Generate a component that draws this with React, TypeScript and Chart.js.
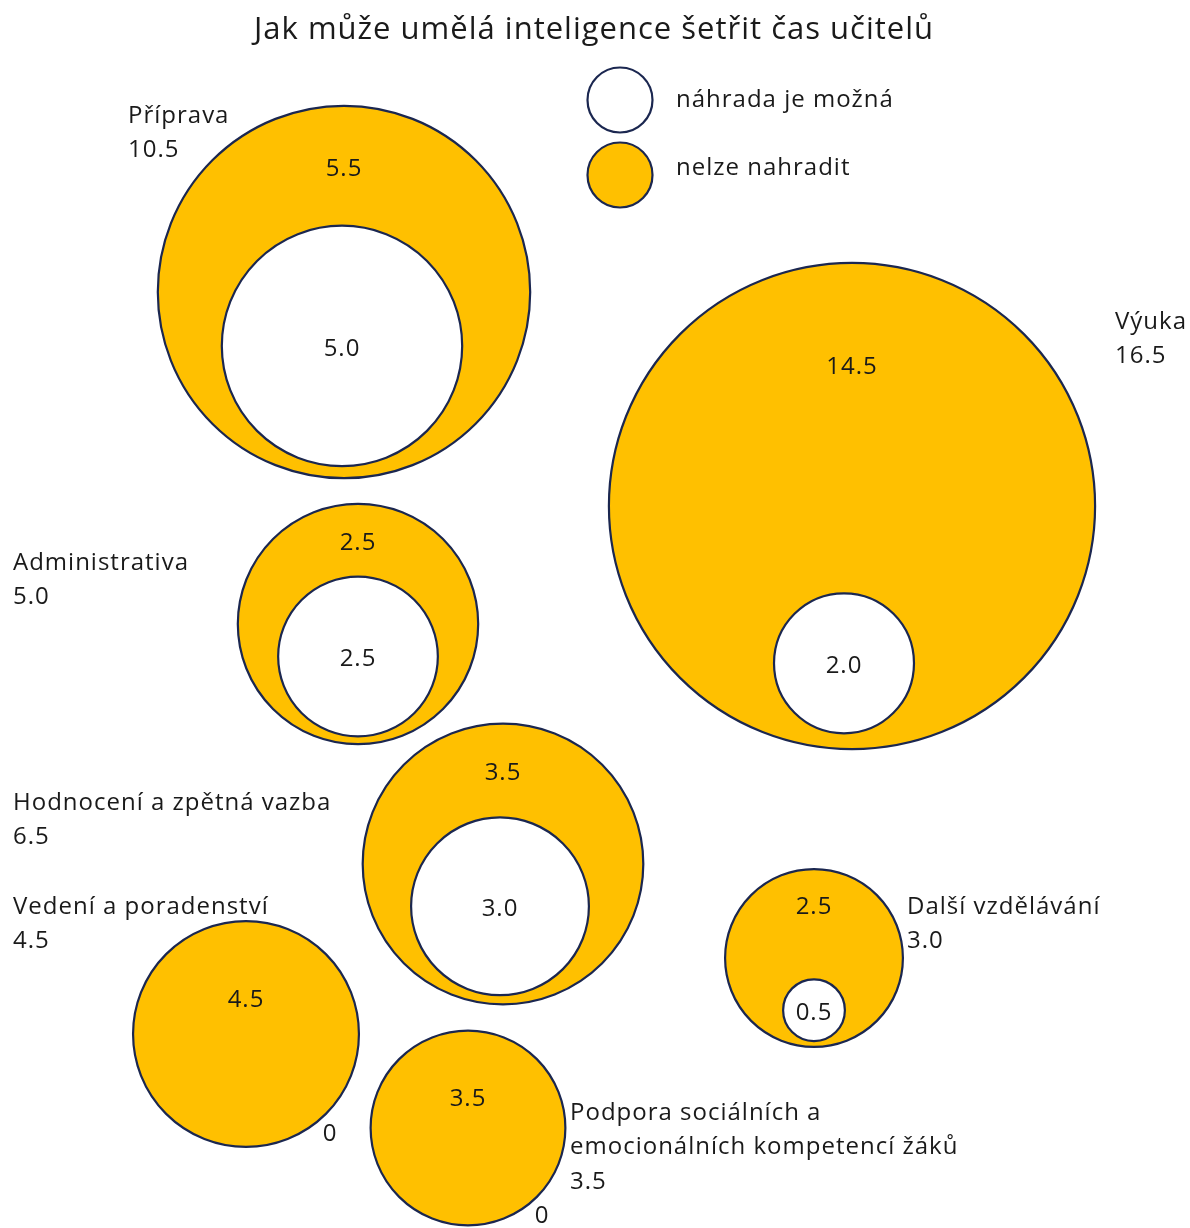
import React, { useEffect, useRef } from 'react';
import { Chart, registerables } from 'chart.js';

Chart.register(...registerables);

// ---- data ----
const TITLE = 'Jak může umělá inteligence šetřit čas učitelů';
const seriesNames = ['náhrada je možná', 'nelze nahradit'];
const categories = [
  'Příprava',
  'Výuka',
  'Administrativa',
  'Hodnocení a zpětná vazba',
  'Vedení a poradenství',
  'Podpora sociálních a emocionálních kompetencí žáků',
  'Další vzdělávání',
];
const totals = [10.5, 16.5, 5.0, 6.5, 4.5, 3.5, 3.0];
const replaceable = [5.0, 2.0, 2.5, 3.0, 0, 0, 0.5];
const notReplaceable = [5.5, 14.5, 2.5, 3.5, 4.5, 3.5, 2.5];

// ---- layout (packing positions, not data) ----
const W = 1190;
const H = 1228;
const centerX = [344, 852, 358, 503, 246, 468, 814];
const centerY = [292, 506, 624, 864, 1034, 1128, 958];
const innerShiftX = [-2, -8, 0, -3, 0, 0, 0];
const nameLines = [
  ['Příprava'],
  ['Výuka'],
  ['Administrativa'],
  ['Hodnocení a zpětná vazba'],
  ['Vedení a poradenství'],
  ['Podpora sociálních a', 'emocionálních kompetencí žáků'],
  ['Další vzdělávání'],
];
const nameX = [128, 1115, 13, 13, 13, 570, 907];
const nameY = [116, 322, 563, 803, 907, 1113, 907];

const YELLOW = '#FFC000';
const STROKE = '#1B2750';
const TEXT = '#1a1a1a';
const FONT = '"Open Sans", "Noto Sans", sans-serif';

// radius scale (data units): r = C * v^P
const R_C = 46.5;
const R_P = 0.59;
const rad = (v: number) => R_C * Math.pow(v, R_P);

const outerPoints = categories.map((c, i) => ({ x: centerX[i], y: centerY[i], v: totals[i], i }));
const innerPoints = categories
  .map((c, i) => {
    const R = rad(totals[i]);
    const r = rad(replaceable[i]);
    const gap = 0.065 * R;
    return { x: centerX[i] + innerShiftX[i], y: centerY[i] + R - r - gap, v: replaceable[i], i };
  })
  .filter((p) => p.v > 0);

export default function App() {
  const ref = useRef<HTMLCanvasElement | null>(null);

  useEffect(() => {
    if (!ref.current) return;

    // radius in pixels: data-unit radius times pixels per x unit
    const pxRadius = (chart: any, v: number) => {
      const s = chart.scales && chart.scales.x;
      if (s && s.width > 0) {
        return s.getPixelForValue(rad(v)) - s.getPixelForValue(0);
      }
      return (rad(v) * (chart.width || W)) / W;
    };

    const labelsPlugin = {
      id: 'bubbleLabels',
      afterDatasetsDraw(chart: any) {
        const ctx = chart.ctx;
        const xs = chart.scales.x;
        const ys = chart.scales.y;
        ctx.save();
        ctx.fillStyle = TEXT;
        ctx.textBaseline = 'middle';
        (ctx as any).letterSpacing = '1px';
        ctx.font = `24px ${FONT}`;

        categories.forEach((c, i) => {
          const cx = xs.getPixelForValue(centerX[i]);
          const cy = ys.getPixelForValue(centerY[i]);
          const R = pxRadius(chart, totals[i]);
          const top = cy - R;
          ctx.textAlign = 'center';
          if (replaceable[i] > 0) {
            const ip = innerPoints.find((p) => p.i === i)!;
            const icx = xs.getPixelForValue(ip.x);
            const icy = ys.getPixelForValue(ip.y);
            const r = pxRadius(chart, replaceable[i]);
            const innerTop = icy - r;
            const ly = Math.min((top + innerTop) / 2 + 3, top + 0.43 * R);
            ctx.fillText(notReplaceable[i].toFixed(1), cx, ly);
            ctx.fillText(replaceable[i].toFixed(1), icx, icy + 3);
          } else {
            ctx.fillText(notReplaceable[i].toFixed(1), cx, cy - 0.3 * R);
            const d = R + 18;
            const a = (50 * Math.PI) / 180;
            ctx.fillText('0', cx + d * Math.cos(a), cy + d * Math.sin(a));
          }
          // category name + total
          ctx.textAlign = 'left';
          const lines = [...nameLines[i], totals[i].toFixed(1)];
          lines.forEach((t, k) => {
            ctx.fillText(t, nameX[i], nameY[i] + k * 34.5);
          });
        });

        // title
        ctx.textAlign = 'center';
        ctx.font = `31px ${FONT}`;
        (ctx as any).letterSpacing = '1px';
        ctx.fillText(TITLE, 594, 30);

        // legend
        (ctx as any).letterSpacing = '1px';
        ctx.font = `24px ${FONT}`;
        const legend = [
          { name: seriesNames[0], fill: '#ffffff', y: 100, ty: 100 },
          { name: seriesNames[1], fill: YELLOW, y: 175, ty: 168 },
        ];
        legend.forEach((l) => {
          ctx.beginPath();
          ctx.arc(620, l.y, 32.5, 0, Math.PI * 2);
          ctx.fillStyle = l.fill;
          ctx.fill();
          ctx.lineWidth = 2.2;
          ctx.strokeStyle = STROKE;
          ctx.stroke();
          ctx.fillStyle = TEXT;
          ctx.textAlign = 'left';
          ctx.fillText(l.name, 676, l.ty);
        });
        ctx.restore();
      },
    };

    const radiusOpt = (c: any) => pxRadius(c.chart, c.raw ? c.raw.v : 0);

    const chart = new Chart(ref.current, {
      type: 'bubble',
      data: {
        datasets: [
          {
            label: seriesNames[0],
            data: innerPoints as any,
            backgroundColor: '#ffffff',
            borderColor: STROKE,
            borderWidth: 2.2,
            order: 0,
            clip: false as any,
            radius: radiusOpt,
            hoverRadius: 0,
          } as any,
          {
            label: seriesNames[1],
            data: outerPoints as any,
            backgroundColor: YELLOW,
            borderColor: STROKE,
            borderWidth: 2.2,
            order: 1,
            clip: false as any,
            radius: radiusOpt,
            hoverRadius: 0,
          } as any,
        ],
      },
      options: {
        animation: false,
        responsive: true,
        maintainAspectRatio: false,
        events: [],
        layout: { padding: 0, autoPadding: false } as any,
        scales: {
          x: { type: 'linear', min: 0, max: W, display: false },
          y: { type: 'linear', min: 0, max: H, reverse: true, display: false },
        },
        plugins: {
          legend: { display: false },
          tooltip: { enabled: false },
          title: { display: false },
        },
      },
      plugins: [labelsPlugin],
    });
    return () => chart.destroy();
  }, []);

  return (
    <div style={{ position: 'absolute', left: 0, top: 0, width: W, height: H, background: '#fff' }}>
      <canvas ref={ref} />
    </div>
  );
}
